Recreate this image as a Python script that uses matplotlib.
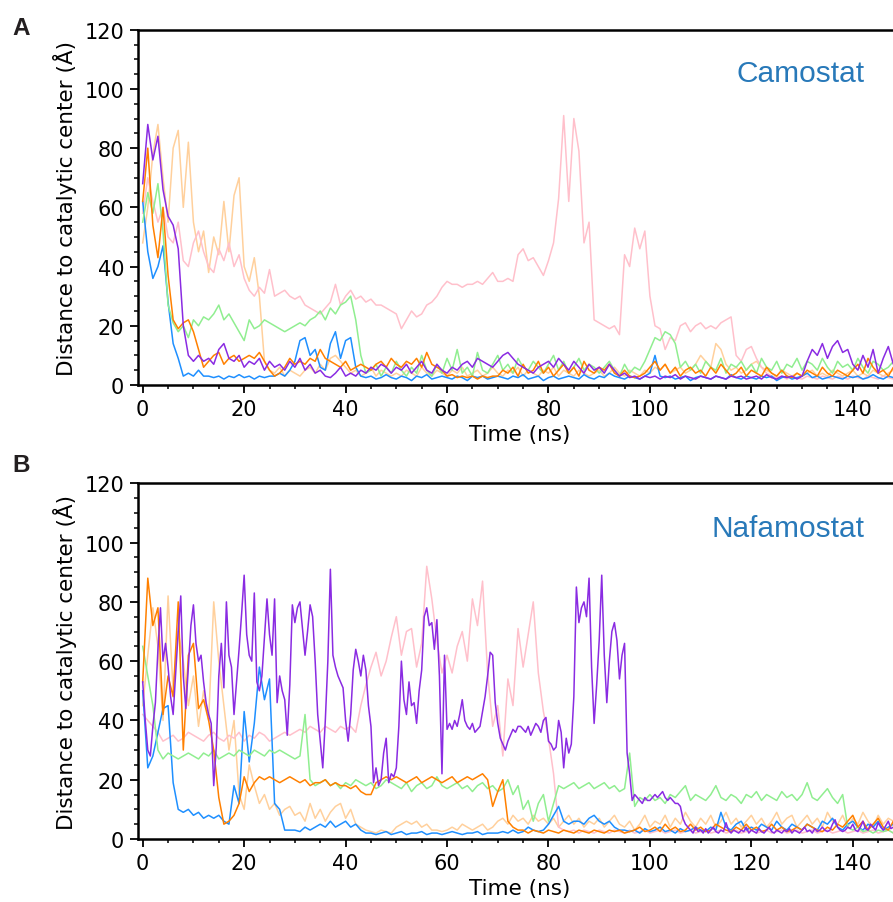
import numpy as np
import matplotlib
matplotlib.use("Agg")
import matplotlib.pyplot as plt
from matplotlib.ticker import MultipleLocator

# ---------------------------------------------------------------
# Distance of the ligand to the catalytic centre (Å) over time (ns)
# Six replicas per ligand; samples every 1 ns unless noted.
# ---------------------------------------------------------------
STEP = 1.0          # ns between samples
STEP_FINE = 0.5     # ns between samples (Nafamostat purple replica)

# ---- Camostat ---------------------------------------------------
camo_blue = [
    62, 45, 36, 40, 47, 28, 14, 9, 3, 4,
    3, 5, 3, 3, 2.5, 3, 2, 3, 2.5, 3.5,
    2.5, 3, 2, 3, 2.5, 3, 3, 4, 3, 5,
    8, 15, 16, 10, 12, 6, 5, 14, 18, 9,
    15, 16, 6, 3, 2.5, 3, 2, 2.5, 3.5, 2.5,
    2, 3, 2.5, 1.5, 3, 2.5, 3.5, 2, 2.5, 3,
    2.5, 2, 3, 2.5, 1.5, 3, 2.5, 3, 2, 2.5,
    3, 2.5, 2, 3, 2.5, 3.5, 2, 2.5, 3, 1.5,
    2.5, 3, 2, 2.5, 3, 2.5, 2, 3.5, 2.5, 2,
    3, 2.5, 4, 3, 2.5, 2, 3, 2.5, 2, 3,
    4, 10, 3, 2.5, 3, 2, 2.5, 3, 1.5, 2.5,
    3, 2.5, 2, 3, 2.5, 2, 3.5, 2.5, 2, 3,
    2.5, 2, 3, 2.5, 3, 1.5, 2.5, 3, 2, 2.5,
    3, 4, 2.5, 3, 2, 2.5, 3, 2.5, 2, 3,
    2.5, 3, 2, 2.5, 3.5, 2.5, 2, 3, 2.5, 2,
]
camo_orange = [
    62, 80, 54, 43, 60, 37, 22, 19, 21, 22,
    18, 12, 6, 8, 10, 11, 7, 9, 10, 8,
    9, 10, 9, 11, 8, 5, 3, 4, 6, 9,
    7, 8, 7, 9, 8, 12, 9, 8, 7, 6,
    8, 5, 6, 7, 6, 5, 7, 8, 6, 9,
    7, 6, 8, 7, 9, 6, 11, 7, 6, 5,
    3, 3.5, 2.5, 3, 2.5, 3, 2, 3, 2.5, 3,
    3, 5, 4, 6, 3, 7, 4, 5, 8, 4,
    6, 3, 5, 7, 4, 6, 3, 8, 5, 4,
    6, 5, 7, 4, 3, 5, 3, 2.5, 3, 4,
    6, 8, 5, 7, 4, 6, 3, 5, 6, 4,
    5, 3, 6, 4, 7, 5, 3, 4, 6, 3,
    5, 4, 3, 6, 4, 3, 5, 3, 2.5, 4,
    3, 5, 4, 3, 6, 4, 3, 5, 4, 3,
    5, 7, 4, 9, 6, 4, 5, 3, 6, 4,
]
camo_green = [
    55, 65, 58, 68, 52, 27, 21, 18, 20, 16,
    22, 20, 23, 22, 24, 27, 22, 24, 21, 18,
    15, 22, 19, 20, 22, 21, 20, 19, 18, 19,
    20, 21, 20, 22, 23, 25, 22, 26, 24, 27,
    28, 30, 22, 10, 4, 5, 7, 3, 6, 4,
    8, 5, 3, 6, 4, 10, 5, 3, 7, 4,
    9, 5, 12, 4, 6, 3, 11, 5, 4, 7,
    10, 5, 7, 4, 9, 6, 5, 8, 6, 4,
    7, 10, 5, 8, 4, 6, 9, 5, 7, 6,
    4, 6, 8, 5, 3, 7, 4, 6, 5, 8,
    12, 16, 15, 18, 17, 14, 6, 8, 5, 7,
    4, 8, 6, 5, 9, 4, 7, 6, 8, 5,
    7, 4, 9, 6, 5, 8, 4, 7, 6, 9,
    5, 8, 7, 5, 9, 6, 4, 8, 6, 7,
    5, 9, 6, 4, 8, 7, 5, 6, 8, 5,
]
camo_purple = [
    68, 88, 76, 84, 66, 57, 54, 46, 20, 10,
    8, 10, 8, 9, 7, 12, 14, 9, 8, 10,
    6, 8, 7, 9, 5, 8, 6, 7, 5, 8,
    6, 9, 5, 7, 4, 5, 3, 2.5, 4, 6,
    3, 4, 3, 5, 4, 6, 5, 7, 6, 4,
    6, 5, 7, 4, 6, 8, 5, 4, 7, 5,
    4, 6, 5, 7, 8, 6, 9, 8, 7, 6,
    8, 10, 11, 9, 7, 6, 5, 4, 6, 7,
    8, 6, 9, 7, 5, 8, 6, 4, 7, 5,
    6, 4, 7, 5, 3, 4, 2.5, 3, 2, 3,
    2.5, 3, 2, 3, 2.5, 3.5, 2, 3, 2.5, 2,
    3, 2.5, 2, 3, 2.5, 2, 3, 2.5, 3, 2,
    2.5, 3, 2, 3.5, 2.5, 2, 3, 2.5, 3, 2,
    3, 8, 12, 10, 14, 9, 13, 15, 11, 12,
    7, 5, 10, 6, 12, 4, 9, 13, 7, 10,
]
camo_peach = [
    48, 60, 78, 88, 70, 55, 80, 86, 60, 82,
    55, 45, 52, 38, 50, 44, 62, 45, 64, 70,
    40, 35, 43, 30, 8, 5, 4, 6, 3, 5,
    4, 3, 5, 6, 4, 7, 5, 9, 10, 8,
    6, 4, 5, 3, 4, 6, 3, 5, 4, 3,
    4, 3, 5, 4, 3, 6, 4, 3, 5, 4,
    3, 5, 4, 6, 3, 4, 5, 3, 4, 6,
    4, 3, 5, 4, 6, 3, 5, 4, 3, 5,
    4, 6, 3, 5, 4, 3, 5, 4, 3, 4,
    5, 3, 4, 6, 4, 3, 5, 4, 3, 5,
    4, 6, 5, 7, 4, 5, 6, 4, 5, 7,
    10, 8, 6, 14, 12, 7, 5, 6, 4, 5,
    7, 8, 6, 5, 4, 3, 5, 4, 3, 4,
    3, 4, 5, 3, 4, 3, 5, 4, 3, 4,
    5, 3, 4, 3, 5, 4, 3, 4, 5, 3,
]
camo_pink = [
    58, 70, 62, 55, 60, 50, 48, 55, 42, 40,
    48, 52, 45, 40, 38, 46, 42, 48, 40, 44,
    36, 32, 30, 33, 31, 39, 30, 31, 32, 30,
    29, 30, 27, 26, 25, 24, 26, 28, 34, 27,
    30, 32, 29, 30, 28, 29, 27, 27, 26, 25,
    24, 19, 22, 25, 23, 24, 27, 28, 30, 33,
    35, 34, 34, 33, 34, 34, 35, 34, 36, 38,
    35, 35, 36, 35, 44, 46, 42, 43, 40, 37,
    42, 48, 63, 91, 62, 90, 79, 48, 55, 22,
    21, 20, 19, 20, 17, 44, 40, 53, 46, 52,
    30, 20, 19, 12, 16, 15, 20, 21, 18, 20,
    21, 19, 20, 19, 21, 22, 23, 10, 8, 12,
    13, 9, 6, 4, 3, 2.5, 3, 2, 3, 2.5,
    2, 3, 2.5, 2, 3, 2.5, 2, 3, 2.5, 2,
    3, 2.5, 2, 3, 2.5, 2, 3, 2.5, 2, 3,
]

# ---- Nafamostat -------------------------------------------------
nafa_blue = [
    50, 24, 28, 36, 44, 45, 19, 10, 9, 10,
    8, 9, 7, 8, 7, 8, 6, 5, 18, 12,
    43, 26, 39, 58, 47, 54, 12, 10, 3, 3,
    3, 2.5, 4, 3, 4, 5, 4, 6, 4, 5,
    6, 4, 5, 3, 2, 2, 1.5, 2, 2.5, 1.5,
    2, 2.5, 1.5, 2, 2, 2.5, 1.5, 2, 2, 1.5,
    2, 2.5, 2, 1.5, 2, 2, 2.5, 1.5, 2, 2,
    2, 2.5, 2, 3, 2, 2.5, 4, 3, 2.5, 3,
    5, 8, 11, 6, 5, 6, 6, 5, 7, 8,
    6, 5, 6, 4, 3, 3, 2.5, 3, 2, 3.5,
    2.5, 3, 4, 2.5, 3, 2, 3.5, 2.5, 3, 4,
    3, 2.5, 4, 3, 9, 4, 3, 5, 6, 3,
    4, 3, 5, 4, 3, 6, 4, 3, 5, 4,
    3, 5, 4, 3, 6, 5, 7, 4, 3, 5,
    6, 4, 3, 5, 4, 6, 3, 4, 5, 3,
]
nafa_orange = [
    53, 88, 72, 78, 42, 55, 48, 80, 30, 62,
    66, 44, 47, 40, 30, 14, 5, 6, 8, 12,
    21, 16, 19, 21, 20, 21, 20, 19, 20, 21,
    20, 19, 20, 18, 19, 19, 20, 18, 19, 18,
    18, 17, 18, 16, 15, 15, 19, 20, 21, 20,
    21, 20, 19, 20, 21, 19, 20, 21, 20, 19,
    20, 21, 19, 20, 21, 20, 21, 22, 20, 11,
    16, 20, 6, 4, 3, 3, 2, 3, 2.5, 2,
    3, 2.5, 2, 3, 2.5, 2, 3, 2.5, 2, 3,
    2.5, 2, 3, 2.5, 3, 2, 2.5, 3, 4, 2.5,
    3, 4, 2.5, 5, 3, 4, 2.5, 3, 5, 3,
    4, 2.5, 3, 5, 4, 3, 2.5, 4, 3, 5,
    3, 4, 2.5, 3, 5, 3, 4, 2.5, 3, 4,
    3, 5, 4, 3, 2.5, 4, 3, 5, 4, 6,
    8, 4, 6, 3, 5, 7, 4, 3, 6, 4,
]
nafa_green = [
    65, 55, 45, 30, 27, 29, 28, 27, 28, 29,
    28, 27, 29, 28, 30, 27, 28, 29, 28, 30,
    29, 28, 30, 29, 28, 30, 29, 30, 29, 28,
    27, 28, 42, 20, 18, 19, 20, 18, 19, 17,
    19, 18, 20, 19, 18, 19, 17, 18, 20, 19,
    18, 17, 19, 16, 18, 19, 17, 18, 21, 18,
    17, 18, 19, 17, 18, 16, 18, 19, 17, 18,
    16, 17, 20, 15, 18, 10, 13, 6, 12, 15,
    6, 12, 18, 17, 18, 19, 17, 18, 19, 17,
    18, 19, 17, 18, 16, 17, 29, 11, 14, 13,
    15, 13, 14, 12, 15, 14, 16, 18, 13, 15,
    14, 13, 15, 18, 14, 13, 15, 14, 12, 15,
    14, 16, 13, 15, 14, 13, 16, 14, 15, 13,
    15, 19, 14, 13, 15, 17, 14, 12, 15, 4,
    3, 4, 2.5, 3, 2, 3, 2.5, 3, 2, 3,
]
nafa_pink = [
    42, 40, 38, 36, 33, 34, 35, 33, 34, 36,
    35, 34, 33, 35, 36, 34, 33, 35, 34, 36,
    33, 35, 34, 36, 35, 33, 34, 35, 36, 35,
    36, 37, 36, 38, 37, 36, 38, 37, 36, 38,
    37, 38, 36, 45, 52, 58, 63, 55, 60, 68,
    75, 62, 70, 71, 58, 66, 92, 81, 67, 56,
    62, 56, 65, 70, 60, 81, 72, 87, 56, 38,
    45, 28, 54, 45, 71, 58, 69, 80, 56, 43,
    34, 22, 4, 3, 2.5, 3, 2, 3, 2.5, 2,
    3, 2.5, 2, 3, 2.5, 2, 3, 2, 2.5, 3,
    2, 2.5, 3, 2, 2.5, 3, 2, 2.5, 3, 2,
    2.5, 3, 2, 2.5, 3, 2, 2.5, 3, 2, 2.5,
    3, 2, 2.5, 3, 2, 2.5, 3, 2, 2.5, 3,
    2, 2.5, 3, 2, 2.5, 3, 2, 2.5, 3, 2,
    2.5, 3, 2, 2.5, 3, 2, 2.5, 3, 2, 2.5,
]
nafa_peach = [
    45, 62, 78, 65, 40, 82, 50, 70, 60, 45,
    55, 38, 50, 40, 80, 60, 45, 30, 40, 15,
    10, 25, 18, 12, 15, 10, 12, 8, 10, 11,
    8, 9, 6, 12, 7, 10, 6, 9, 11, 12,
    7, 10, 5, 4, 3, 2.5, 2, 3, 2.5, 2,
    4, 5, 6, 5, 6, 4, 5, 3, 3, 2.5,
    3, 4, 3, 5, 4, 3, 4, 5, 3, 4,
    6, 7, 5, 8, 6, 7, 5, 8, 6, 7,
    5, 7, 4, 6, 8, 5, 7, 4, 6, 5,
    7, 4, 6, 8, 5, 4, 6, 3, 5, 8,
    4, 6, 5, 8, 4, 7, 5, 9, 6, 4,
    7, 5, 8, 4, 6, 9, 5, 7, 4, 6,
    8, 5, 7, 4, 6, 9, 5, 7, 8, 4,
    6, 8, 5, 7, 4, 9, 6, 5, 8, 4,
    7, 5, 9, 6, 4, 8, 5, 7, 6, 8,
]
# sampled every 0.5 ns
nafa_purple = [
    53, 40, 30, 28, 38, 46, 64, 78, 60, 66,
    58, 48, 42, 56, 70, 82, 55, 44, 58, 72,
    79, 66, 60, 62, 53, 46, 42, 39, 18, 31,
    55, 66, 51, 80, 62, 58, 42, 53, 64, 76,
    89, 69, 62, 60, 83, 53, 50, 55, 68, 81,
    69, 62, 81, 46, 55, 50, 47, 35, 52, 79,
    73, 78, 80, 71, 62, 70, 79, 75, 60, 42,
    33, 24, 40, 60, 91, 62, 58, 55, 53, 51,
    40, 33, 42, 57, 64, 60, 55, 62, 57, 45,
    38, 19, 24, 18, 20, 29, 34, 19, 22, 21,
    24, 38, 60, 47, 42, 53, 45, 46, 39, 50,
    57, 75, 78, 72, 73, 64, 74, 55, 22, 62,
    37, 39, 37, 40, 38, 42, 47, 40, 38, 37,
    39, 36, 37, 38, 43, 48, 55, 63, 62, 46,
    39, 34, 32, 30, 33, 35, 37, 36, 38, 38,
    37, 36, 38, 35, 37, 39, 38, 36, 40, 41,
    33, 32, 30, 31, 40, 36, 24, 34, 29, 32,
    48, 85, 73, 78, 80, 75, 88, 58, 39, 52,
    67, 89, 62, 46, 60, 70, 73, 67, 54, 62,
    66, 29, 22, 13, 15, 14, 13, 12, 14, 13,
    13, 14, 15, 14, 15, 16, 14, 13, 14, 13,
    12, 12, 11, 7, 5, 4,
    3, 2, 4, 2.5, 3, 2, 3.5, 2, 3, 4, 2.5, 2, 3, 2.5, 5.5, 3, 2, 3, 2.5, 2,
    3, 2.5, 4, 2, 3, 2.5, 2, 3.5, 2.5, 2, 3, 4, 2.5, 2, 3, 2.5, 2, 3, 2.5, 3.5,
    2, 3, 2.5, 2, 3, 4, 2.5, 3, 2, 3.5, 2.5, 3, 4, 3, 2.5, 3, 5, 6.5, 4, 3,
    2.5, 3, 4, 3.5, 5, 3, 2.5, 4, 6, 3.5, 3, 5, 4, 3, 5.5, 4, 3, 4.5, 6, 3.5,
    4, 3, 5, 4,
]

panel_titles = ["Camostat", "Nafamostat"]
panel_letters = ["A", "B"]
x_label = "Time (ns)"
y_label = "Distance to catalytic center (Å)"

COLORS = {
    "peach": "#FFD09C",
    "pink": "#FFC0CB",
    "blue": "#1E8FFF",
    "green": "#90EE90",
    "orange": "#FF8000",
    "purple": "#8A2BE2",
}

panels = [
    [("peach", camo_peach, STEP), ("pink", camo_pink, STEP),
     ("blue", camo_blue, STEP), ("green", camo_green, STEP),
     ("orange", camo_orange, STEP), ("purple", camo_purple, STEP)],
    [("peach", nafa_peach, STEP), ("pink", nafa_pink, STEP),
     ("blue", nafa_blue, STEP), ("green", nafa_green, STEP),
     ("orange", nafa_orange, STEP), ("purple", nafa_purple, STEP_FINE)],
]

W, H = 893, 903
fig = plt.figure(figsize=(W / 100, H / 100), dpi=100)


def axes_px(left, top, right, bottom):
    return fig.add_axes([left / W, 1 - bottom / H, (right - left) / W, (bottom - top) / H])


boxes = [(138, 30.7, 902, 386), (138, 484.3, 902, 840)]
title_base = [81.7, 536.7]
letter_base = [35, 471.7]

for i, (box, series) in enumerate(zip(boxes, panels)):
    ax = axes_px(*box)
    for name, vals, step in series:
        v = np.asarray(vals, dtype=float)
        t = np.arange(len(v)) * step
        ax.plot(t, v, color=COLORS[name], lw=1.1, solid_joinstyle="round")
    ax.set_xlim(-0.93, 149.7)
    ax.set_ylim(0, 120)
    ax.xaxis.set_major_locator(MultipleLocator(20))
    ax.xaxis.set_minor_locator(MultipleLocator(5))
    ax.yaxis.set_major_locator(MultipleLocator(20))
    ax.yaxis.set_minor_locator(MultipleLocator(5))
    for sp in ax.spines.values():
        sp.set_linewidth(1.8)
    ax.tick_params(which="major", direction="out", length=5.5, width=1.3,
                   labelsize=15, pad=4.5)
    ax.tick_params(which="minor", direction="out", length=3, width=1.1)
    ax.set_xlabel(x_label, fontsize=15.5, labelpad=4)
    ax.set_ylabel(y_label, fontsize=15.5, labelpad=5)

    fig.text(865 / W, 1 - title_base[i] / H, panel_titles[i], ha="right",
             va="baseline", fontsize=21.5, family="Liberation Sans",
             color="#2879B9")
    fig.text(12 / W, 1 - letter_base[i] / H, panel_letters[i], ha="left",
             va="baseline", fontsize=17.5, fontweight="bold",
             family="Liberation Sans", color="#231F20")

fig.savefig("out.png", dpi=100)
